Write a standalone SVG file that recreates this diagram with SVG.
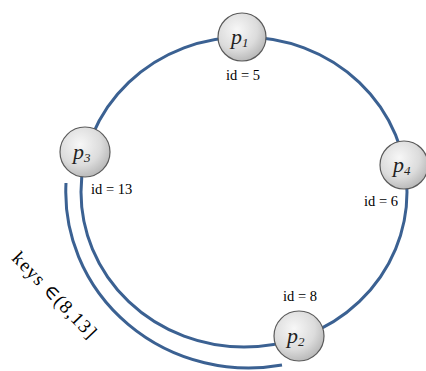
<svg xmlns="http://www.w3.org/2000/svg" width="426" height="371" viewBox="0 0 426 371">
<defs>
<radialGradient id="ng" cx="0.4" cy="0.35" r="0.7">
<stop offset="0" stop-color="#f7f7f7"/>
<stop offset="0.6" stop-color="#dcdcdc"/>
<stop offset="1" stop-color="#b4b4b4"/>
</radialGradient>
<style>
.ring{fill:none;stroke:#3b6192;stroke-width:3}
.node{fill:url(#ng);stroke:#5a5a5a;stroke-width:1.2}
.p{font-family:"Liberation Serif","Times New Roman","DejaVu Serif",serif;font-style:italic;font-size:22px;fill:#222}
.sub{font-size:13px}
.id{font-family:"Liberation Serif","Times New Roman","DejaVu Serif",serif;font-size:14.5px;fill:#000}
.keys{font-family:"Liberation Serif","Times New Roman","DejaVu Serif",serif;font-size:19px;fill:#000}
</style>
</defs>
<rect width="426" height="371" fill="#fff"/>
<g id="connectors">
<ellipse class="ring" cx="244" cy="192" rx="163" ry="155"/>
<path class="ring" d="M66,183 A183,176 0 0 0 282,365"/>
</g>
<g id="p1">
<circle class="node" cx="242" cy="37" r="24"/>
<text class="p" x="231" y="44">p<tspan class="sub" dy="3">1</tspan></text>
<text class="id" x="243" y="80" text-anchor="middle">id = 5</text>
</g>
<g id="p3">
<circle class="node" cx="85" cy="152" r="25"/>
<text class="p" x="73" y="159">p<tspan class="sub" dy="3">3</tspan></text>
<text class="id" x="91" y="194">id = 13</text>
</g>
<g id="p4">
<circle class="node" cx="404" cy="165" r="24"/>
<text class="p" x="393" y="172">p<tspan class="sub" dy="3">4</tspan></text>
<text class="id" x="398" y="206" text-anchor="end">id = 6</text>
</g>
<g id="p2">
<circle class="node" cx="299" cy="336" r="25"/>
<text class="p" x="287" y="343">p<tspan class="sub" dy="3">2</tspan></text>
<text class="id" x="283" y="301">id = 8</text>
</g>
<text class="keys" transform="translate(11,259) rotate(46)" textLength="112" lengthAdjust="spacing">keys ∈(8,13]</text>
</svg>
